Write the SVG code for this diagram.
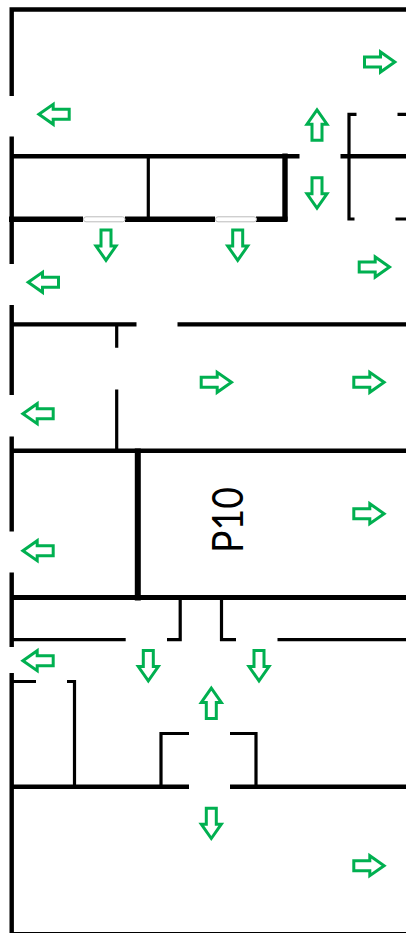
<svg xmlns="http://www.w3.org/2000/svg" width="406" height="933" viewBox="0 0 406 933">
<style>
.w{stroke:#000;fill:none;stroke-linecap:butt}
.t2{stroke-width:3.200}
.t3{stroke-width:4.400}
.t4{stroke-width:5.400}
.t5{stroke-width:6}
.a{fill:#fff;stroke:#00b050;stroke-width:3;stroke-linejoin:miter}
.label{font-family:"Lato","Liberation Sans",sans-serif;font-size:42px;fill:#000}
</style>
<defs>
<path id="ar" class="a" d="M-15.500,-5H0.500V-10L14.800,0L0.500,10V5H-15.500Z"/>
</defs>
<rect width="406" height="933" fill="#fff"/>
<g id="walls">
<path class="w t3" d="M9.500,9.500H406M11.700,7.500V96M11.700,136.500V264M11.700,305V395M11.700,436.500V531.500M11.700,572.500V647M11.700,673V933"/>
<path class="w t3" d="M12,156.300H299.500M340.500,156.300H406"/>
<path class="w t4" d="M9,219.300H83M125,219.300H215M256,219.300H287.500"/>
<path class="w t2" d="M148.300,156V219"/>
<path class="w t4" d="M285,153.500V221"/>
<path class="w t2" d="M356.500,114.300H349V219H354.500M397.500,114.300H406M395.500,219H406"/>
<path class="w t3" d="M12,324.400H136.500M177.500,324.400H406"/>
<path class="w t2" d="M116.700,324V347.700M116.700,389.500V451"/>
<path class="w t3" d="M12,450.700H406"/>
<path class="w t5" d="M137.800,448.500V600.500"/>
<path class="w" stroke-width="4.800" d="M10,597.500H406"/>
<path class="w t2" d="M12,639.700H125.700M167,639.700H180.200V597M236,639.700H221.500V597M277.500,639.700H406"/>
<path class="w t2" d="M12,681.500H36M67,681.500H74.500V787"/>
<path class="w t3" d="M10,786.800H189M230,786.800H406"/>
<path class="w t2" d="M161,787V733.500H189M230,733.500H256V787"/>
<path class="w" stroke-width="2" d="M10,933H406"/>
</g>
<g id="doors" fill="#fff" stroke="#bbb" stroke-width="1">
<rect x="83.500" y="216.800" width="41.500" height="5" rx="2.500"/>
<rect x="215.500" y="216.800" width="41" height="5" rx="2.500"/>
</g>
<g id="arrows">
<use href="#ar" transform="translate(380,62)"/>
<use href="#ar" transform="translate(53.700,114.300) rotate(180)"/>
<use href="#ar" transform="translate(317,124.700) rotate(-90)"/>
<use href="#ar" transform="translate(317,193.300) rotate(90)"/>
<use href="#ar" transform="translate(106,245.500) rotate(90)"/>
<use href="#ar" transform="translate(237.700,245.500) rotate(90)"/>
<use href="#ar" transform="translate(374.700,267)"/>
<use href="#ar" transform="translate(43,282.300) rotate(180)"/>
<use href="#ar" transform="translate(216.700,382.300)"/>
<use href="#ar" transform="translate(369.300,382.300)"/>
<use href="#ar" transform="translate(37.700,413.700) rotate(180)"/>
<use href="#ar" transform="translate(369.300,513.700)"/>
<use href="#ar" transform="translate(37.700,550.700) rotate(180)"/>
<use href="#ar" transform="translate(37.700,660.700) rotate(180)"/>
<use href="#ar" transform="translate(148.300,666) rotate(90)"/>
<use href="#ar" transform="translate(259,666) rotate(90)"/>
<use href="#ar" transform="translate(211.300,703) rotate(-90)"/>
<use href="#ar" transform="translate(211.300,823.700) rotate(90)"/>
<use href="#ar" transform="translate(369.300,865.700)"/>
</g>
<g id="P10">
<text class="label" transform="translate(243,553) rotate(-90)" textLength="66" lengthAdjust="spacingAndGlyphs">P10</text>
</g>
</svg>
